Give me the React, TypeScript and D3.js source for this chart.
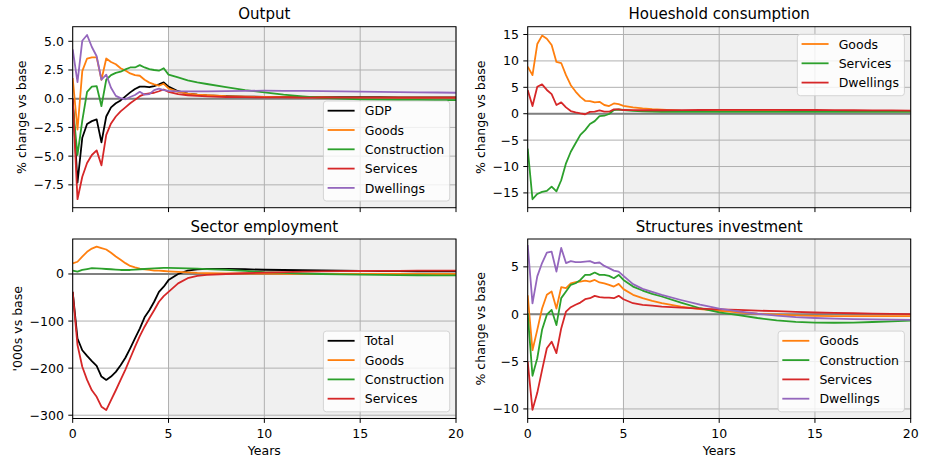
import React from 'react';
import * as d3 from 'd3';

// Time axis: quarterly through year 5, then coarser steps to year 20
const years = [
  0, 0.25, 0.5, 0.75, 1, 1.25, 1.5, 1.75, 2, 2.25, 2.5, 2.75, 3, 3.25, 3.5, 3.75, 4, 4.25, 4.5, 4.75, 5,
  5.5, 6, 6.5, 7, 8, 9, 10, 11, 12, 13, 14, 15, 16, 17, 18, 19, 20,
];

// Output (% change vs base)
const outputGdp = [0, -7.3, -3.4, -2.2, -1.95, -1.8, -3.8, -1.55, -0.75, -0.4, -0.15, 0.2, 0.55, 0.85, 1.05, 1.05, 1.0, 1.1, 1.25, 1.42, 1.05,
  0.65, 0.45, 0.35, 0.28, 0.22, 0.18, 0.16, 0.15, 0.14, 0.14, 0.13, 0.13, 0.13, 0.12, 0.12, 0.12, 0.12];
const outputGoods = [1.8, -2.7, 2.4, 3.5, 3.6, 3.6, 1.65, 3.5, 3.2, 3.0, 2.65, 2.45, 2.2, 2.05, 2.0, 1.65, 1.4, 1.25, 1.13, 1.3, 0.9,
  0.6, 0.45, 0.35, 0.3, 0.22, 0.18, 0.15, 0.13, 0.12, 0.11, 0.1, 0.1, 0.1, 0.1, 0.1, 0.1, 0.1];
const outputConstruction = [-0.5, -4.9, -1.9, 0.6, 1.05, 1.1, -0.65, 1.65, 2.05, 2.25, 2.35, 2.55, 2.72, 2.72, 2.92, 2.72, 2.58, 2.5, 2.44, 2.65, 2.1,
  1.85, 1.6, 1.42, 1.28, 1.0, 0.75, 0.55, 0.35, 0.2, 0.08, 0.0, -0.05, -0.08, -0.1, -0.11, -0.12, -0.12];
const outputServices = [0, -8.75, -6.8, -5.6, -4.9, -4.5, -5.8, -3.15, -2.15, -1.55, -1.1, -0.75, -0.4, -0.1, 0.22, 0.4, 0.47, 0.52, 0.65, 0.8, 0.6,
  0.4, 0.3, 0.25, 0.2, 0.15, 0.13, 0.12, 0.11, 0.1, 0.1, 0.1, 0.1, 0.1, 0.1, 0.1, 0.1, 0.1];
const outputDwellings = [4.3, 1.45, 5.05, 5.55, 4.5, 3.7, 1.65, 2.1, 0.95, 0.25, 0.05, -0.05, 0.15, 0.32, 0.6, 0.35, 0.4, 0.75, 0.88, 0.75, 0.68,
  0.64, 0.63, 0.63, 0.64, 0.66, 0.68, 0.7, 0.69, 0.68, 0.66, 0.64, 0.62, 0.6, 0.58, 0.56, 0.54, 0.52];

// Household consumption (% change vs base)
const consGoods = [8.9, 7.3, 13.2, 14.8, 14.2, 13.0, 9.8, 9.6, 7.3, 5.4, 4.2, 3.2, 2.45, 2.4, 2.15, 2.25, 1.65, 1.45, 1.95, 1.8, 1.5,
  1.2, 1.0, 0.85, 0.75, 0.6, 0.55, 0.55, 0.55, 0.55, 0.55, 0.55, 0.55, 0.55, 0.55, 0.5, 0.5, 0.5];
const consServices = [-6.6, -16.2, -15.2, -14.8, -14.6, -13.8, -14.7, -12.6, -9.4, -7.2, -5.6, -4.0, -3.1, -1.95, -1.4, -0.45, -0.38, -0.05, 0.7, 0.8, 0.7,
  0.55, 0.45, 0.4, 0.35, 0.35, 0.35, 0.35, 0.35, 0.35, 0.35, 0.35, 0.35, 0.35, 0.35, 0.35, 0.35, 0.35];
const consDwellings = [4.5, 1.45, 5.1, 5.55, 4.5, 3.7, 1.65, 2.15, 1.2, 0.5, 0.25, 0.05, -0.1, 0.35, 0.38, 0.62, 0.38, 0.38, 0.82, 0.82, 0.7,
  0.68, 0.66, 0.66, 0.66, 0.68, 0.7, 0.72, 0.72, 0.72, 0.72, 0.7, 0.7, 0.68, 0.66, 0.64, 0.62, 0.6];

// Sector employment ('000s vs base)
const empTotal = [-38, -137, -162, -174, -185, -195, -218, -225, -218, -208, -194, -178, -158, -137, -116, -92, -77, -59, -38, -27, -13,
  0, 7, 10, 11, 11, 10, 9, 8.5, 8, 7.5, 7, 6.5, 6.2, 6, 5.8, 5.6, 5.5];
const empGoods = [22.7, 26, 37, 47, 54, 58, 55, 52, 45, 37, 30, 23, 17, 14, 11.3, 10, 8.5, 7, 7, 6.3, 5.7,
  4.5, 3.5, 2.5, 2, 1.4, 1, 0.6, 0.4, 0.3, 0.2, 0.1, 0, 0, 0, 0, 0, 0];
const empConstruction = [7, 5, 8.5, 10.5, 12.5, 12, 11.3, 10.6, 10, 9.2, 8.5, 8.5, 8.5, 9.2, 10, 10.6, 11.3, 12, 12.5, 12.8, 12.8,
  12.5, 12, 11.2, 10.5, 9, 6.5, 4, 2.5, 1, 0, -0.8, -1.5, -2, -2.4, -2.7, -2.9, -3];
const empServices = [-38, -151, -197, -225, -247, -261, -282, -289, -268, -247, -225, -203, -179, -155, -132, -112, -94, -77, -59, -47, -38,
  -20, -9, -4, -2, 0, 1.5, 3, 4, 4.8, 5.5, 6, 6.3, 6.6, 6.8, 7, 7, 7];

// Structures investment (% change vs base)
const invGoods = [2.0, -3.8, -1.65, 0.6, 2.05, 2.4, 0.6, 2.85, 2.75, 3.25, 3.38, 3.45, 3.55, 3.45, 3.62, 3.35, 3.25, 3.1, 2.92, 3.2, 2.65,
  2.05, 1.7, 1.4, 1.16, 0.81, 0.53, 0.35, 0.2, 0.05, -0.05, -0.12, -0.18, -0.2, -0.2, -0.2, -0.2, -0.2];
const invConstruction = [0.1, -6.5, -4.65, -1.65, -0.05, 0.45, -1.15, 1.7, 2.4, 3.1, 3.27, 3.62, 4.15, 4.15, 4.4, 4.15, 4.15, 4.05, 3.8, 4.15, 3.62,
  2.92, 2.5, 2.15, 1.87, 1.23, 0.63, 0.2, -0.1, -0.4, -0.65, -0.8, -0.88, -0.9, -0.88, -0.82, -0.75, -0.67];
const invServices = [-5.0, -10.1, -8.3, -5.9, -3.6, -2.9, -4.1, -1.5, 0.28, 0.74, 1.0, 1.23, 1.58, 1.69, 1.94, 1.8, 1.76, 1.76, 1.69, 1.94, 1.58,
  1.16, 0.99, 0.9, 0.81, 0.7, 0.6, 0.52, 0.45, 0.38, 0.32, 0.25, 0.18, 0.14, 0.1, 0.06, 0.03, 0.0];
const invDwellings = [7.3, 1.15, 4.0, 5.4, 6.5, 6.6, 4.5, 7.0, 5.4, 5.6, 5.5, 5.5, 5.56, 5.6, 5.4, 5.46, 5.1, 4.86, 4.6, 4.5, 4.05,
  3.17, 2.68, 2.35, 2.04, 1.5, 1.0, 0.6, 0.3, 0.05, -0.15, -0.3, -0.4, -0.47, -0.52, -0.55, -0.58, -0.6];

// Tick labels
const yearTicks = [0, 5, 10, 15, 20];
const outputTicks = [-7.5, -5, -2.5, 0, 2.5, 5];
const consTicks = [-15, -10, -5, 0, 5, 10, 15];
const empTicks = [-300, -200, -100, 0];
const invTicks = [-10, -5, 0, 5];

// Projection period shading
const shadeFrom = 5;
const shadeTo = 20;

const BLACK = '#000000';
const ORANGE = '#ff7f0e';
const GREEN = '#2ca02c';
const RED = '#d62728';
const PURPLE = '#9467bd';

const FONT = '"DejaVu Sans", sans-serif';
const FS = 12.5;
const TITLE_FS = 15;

type Series = { name: string; color: string; values: number[] };
type Panel = {
  key: string;
  title: string;
  ylabel: string;
  yDomain: [number, number];
  yTicks: number[];
  decimals: number;
  box: { x0: number; x1: number; y0: number; y1: number };
  legend: 'lower right' | 'upper right';
  xLabels: boolean;
  series: Series[];
};

const panels: Panel[] = [
  {
    key: 'output',
    title: 'Output',
    ylabel: '% change vs base',
    yDomain: [-9.49, 6.27],
    yTicks: outputTicks,
    decimals: 1,
    box: { x0: 72.7, x1: 456, y0: 26.7, y1: 207.7 },
    legend: 'lower right',
    xLabels: false,
    series: [
      { name: 'GDP', color: BLACK, values: outputGdp },
      { name: 'Goods', color: ORANGE, values: outputGoods },
      { name: 'Construction', color: GREEN, values: outputConstruction },
      { name: 'Services', color: RED, values: outputServices },
      { name: 'Dwellings', color: PURPLE, values: outputDwellings },
    ],
  },
  {
    key: 'cons',
    title: 'Houeshold consumption',
    ylabel: '% change vs base',
    yDomain: [-17.8, 16.48],
    yTicks: consTicks,
    decimals: 0,
    box: { x0: 527.7, x1: 910.7, y0: 26.7, y1: 207.7 },
    legend: 'upper right',
    xLabels: false,
    series: [
      { name: 'Goods', color: ORANGE, values: consGoods },
      { name: 'Services', color: GREEN, values: consServices },
      { name: 'Dwellings', color: RED, values: consDwellings },
    ],
  },
  {
    key: 'emp',
    title: 'Sector employment',
    ylabel: "'000s vs base",
    yDomain: [-307, 74.3],
    yTicks: empTicks,
    decimals: 0,
    box: { x0: 72.7, x1: 456, y0: 239, y1: 418.5 },
    legend: 'lower right',
    xLabels: true,
    series: [
      { name: 'Total', color: BLACK, values: empTotal },
      { name: 'Goods', color: ORANGE, values: empGoods },
      { name: 'Construction', color: GREEN, values: empConstruction },
      { name: 'Services', color: RED, values: empServices },
    ],
  },
  {
    key: 'inv',
    title: 'Structures investment',
    ylabel: '% change vs base',
    yDomain: [-11.01, 7.94],
    yTicks: invTicks,
    decimals: 0,
    box: { x0: 527.7, x1: 910.7, y0: 239, y1: 418.5 },
    legend: 'lower right',
    xLabels: true,
    series: [
      { name: 'Goods', color: ORANGE, values: invGoods },
      { name: 'Construction', color: GREEN, values: invConstruction },
      { name: 'Services', color: RED, values: invServices },
      { name: 'Dwellings', color: PURPLE, values: invDwellings },
    ],
  },
];

let measureCtx: CanvasRenderingContext2D | null = null;
function textWidth(s: string, size: number): number {
  if (!measureCtx) {
    const c = document.createElement('canvas');
    measureCtx = c.getContext('2d');
  }
  if (!measureCtx) return s.length * size * 0.6;
  measureCtx.font = `${size}px "DejaVu Sans"`;
  return measureCtx.measureText(s).width;
}

const fmt = (v: number, decimals: number) => {
  const s = Math.abs(v).toFixed(decimals);
  return v < 0 ? '\u2212' + s : s;
};

function PanelView({ p }: { p: Panel }) {
  const { x0, x1, y0, y1 } = p.box;
  const x = d3.scaleLinear().domain([0, 20]).range([x0, x1]);
  const y = d3.scaleLinear().domain(p.yDomain).range([y1, y0]);
  const line = d3
    .line<number>()
    .x((_, i) => x(years[i]))
    .y((v) => y(v));
  const clipId = `clip-${p.key}`;
  const tickLen = 4.4;
  const labels = p.yTicks.map((t) => fmt(t, p.decimals));
  const maxTickW = Math.max(...labels.map((l) => textWidth(l, FS)));
  const ylabelX = x0 - tickLen - 4.4 - maxTickW - 5 - 3;
  const cy = (y0 + y1) / 2;

  // legend geometry
  const rowH = 19.3;
  const legW = Math.max(...p.series.map((s) => textWidth(s.name, FS))) + 46.7;
  const legH = p.series.length * rowH + 3.5;
  const legX = x1 - 6.3 - legW;
  const legY = p.legend === 'lower right' ? y1 - 6.7 - legH : y0 + 7.6;

  return (
    <g>
      <defs>
        <clipPath id={clipId}>
          <rect x={x0} y={y0} width={x1 - x0} height={y1 - y0} />
        </clipPath>
      </defs>
      <rect x={x0} y={y0} width={x1 - x0} height={y1 - y0} fill="#ffffff" />
      <rect
        x={x(shadeFrom)}
        y={y0}
        width={x(shadeTo) - x(shadeFrom)}
        height={y1 - y0}
        fill="#f0f0f0"
      />
      {/* grid */}
      <g stroke="#b0b0b0" strokeWidth={1}>
        {yearTicks.map((t) => (
          <line key={`gx${t}`} x1={x(t)} x2={x(t)} y1={y0} y2={y1} />
        ))}
        {p.yTicks.map((t) => (
          <line key={`gy${t}`} x1={x0} x2={x1} y1={y(t)} y2={y(t)} />
        ))}
      </g>
      {/* base line */}
      <line x1={x0} x2={x1} y1={y(0)} y2={y(0)} stroke="#808080" strokeWidth={2} />
      <g clipPath={`url(#${clipId})`}>
        {p.series.map((s) => (
          <path
            key={s.name}
            d={line(s.values) || ''}
            fill="none"
            stroke={s.color}
            strokeWidth={1.8}
            strokeLinejoin="round"
          />
        ))}
      </g>
      {/* legend */}
      <g>
        <rect
          x={legX}
          y={legY}
          width={legW}
          height={legH}
          rx={3}
          fill="#ffffff"
          fillOpacity={0.8}
          stroke="#cccccc"
          strokeOpacity={0.8}
          strokeWidth={1}
        />
        {p.series.map((s, i) => {
          const ry = legY + 9.7 + i * rowH;
          return (
            <g key={s.name}>
              <line x1={legX + 4.2} x2={legX + 31.2} y1={ry} y2={ry} stroke={s.color} strokeWidth={1.8} />
              <text x={legX + 41.3} y={ry + 4.6} fontSize={FS} fontFamily={FONT} fill="#000">
                {s.name}
              </text>
            </g>
          );
        })}
      </g>
      {/* spines */}
      <rect x={x0} y={y0} width={x1 - x0} height={y1 - y0} fill="none" stroke="#000" strokeWidth={1} />
      {/* x ticks */}
      {yearTicks.map((t) => (
        <g key={`xt${t}`}>
          <line x1={x(t)} x2={x(t)} y1={y1} y2={y1 + tickLen} stroke="#000" strokeWidth={1} />
          {p.xLabels && (
            <text x={x(t)} y={y1 + 19.3} fontSize={FS} fontFamily={FONT} textAnchor="middle" fill="#000">
              {String(t)}
            </text>
          )}
        </g>
      ))}
      {/* y ticks */}
      {p.yTicks.map((t, i) => (
        <g key={`yt${t}`}>
          <line x1={x0 - tickLen} x2={x0} y1={y(t)} y2={y(t)} stroke="#000" strokeWidth={1} />
          <text
            x={x0 - tickLen - 4.4}
            y={y(t) + 4.5}
            fontSize={FS}
            fontFamily={FONT}
            textAnchor="end"
            fill="#000"
          >
            {labels[i]}
          </text>
        </g>
      ))}
      {p.xLabels && (
        <text x={(x0 + x1) / 2} y={y1 + 36.5} fontSize={FS} fontFamily={FONT} textAnchor="middle" fill="#000">
          Years
        </text>
      )}
      <text
        transform={`translate(${ylabelX},${cy}) rotate(-90)`}
        fontSize={FS}
        fontFamily={FONT}
        textAnchor="middle"
        fill="#000"
      >
        {p.ylabel}
      </text>
      <text x={(x0 + x1) / 2} y={y0 - 7.5} fontSize={TITLE_FS} fontFamily={FONT} textAnchor="middle" fill="#000">
        {p.title}
      </text>
    </g>
  );
}

export default function App() {
  return (
    <svg
      width={930}
      height={462}
      viewBox="0 0 930 462"
      style={{ position: 'absolute', left: 0, top: 0, background: '#ffffff' }}
    >
      <rect x={0} y={0} width={930} height={462} fill="#ffffff" />
      {panels.map((p) => (
        <PanelView key={p.key} p={p} />
      ))}
    </svg>
  );
}
